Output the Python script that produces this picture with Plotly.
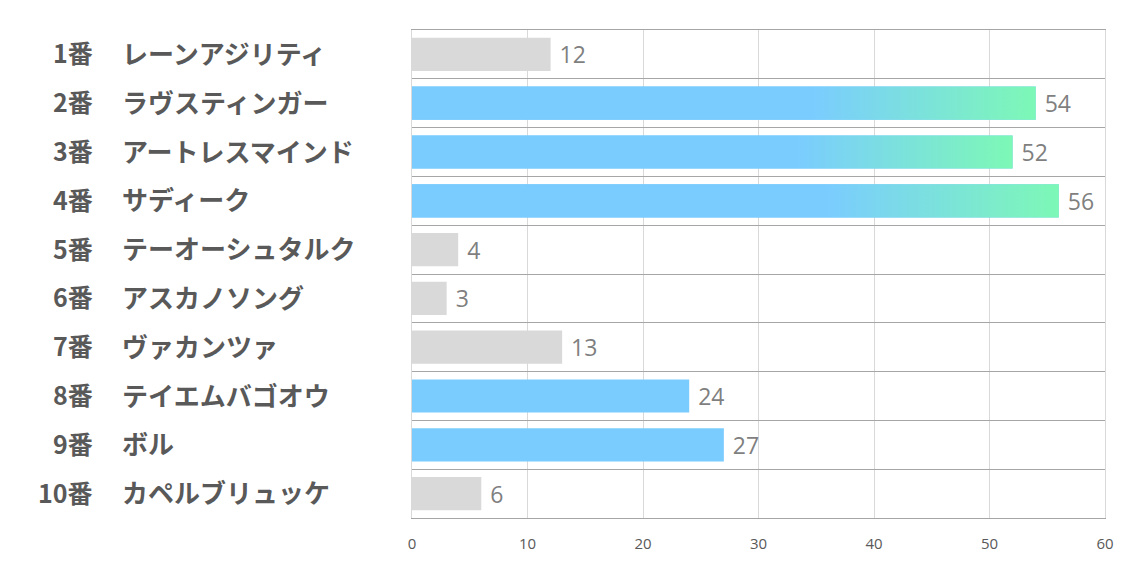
import plotly.graph_objects as go

numbers = ["1番", "2番", "3番", "4番", "5番", "6番", "7番", "8番", "9番", "10番"]
names = ["レーンアジリティ", "ラヴスティンガー", "アートレスマインド", "サディーク",
         "テーオーシュタルク", "アスカノソング", "ヴァカンツァ", "テイエムバゴオウ",
         "ボル", "カペルブリュッケ"]
values = [12, 54, 52, 56, 4, 3, 13, 24, 27, 6]
kinds = ["gray", "grad", "grad", "grad", "gray", "gray", "gray", "blue", "blue", "gray"]
x_ticks = [0, 10, 20, 30, 40, 50, 60]

GRAY = "#D9D9D9"
BLUE = "#7ACCFF"
GREEN = "#7DF8B6"
BAR_W = 0.68

pos = list(range(len(values)))
colors = [GRAY if k == "gray" else BLUE for k in kinds]

fig = go.Figure()
fig.add_trace(go.Bar(
    x=values, y=pos, orientation="h", width=BAR_W,
    marker=dict(color=colors, line=dict(width=0)),
    text=[" " + str(v) for v in values], textposition="outside",
    textfont=dict(size=23, color="#7F7F7F", family="Open Sans"),
    cliponaxis=False, hoverinfo="skip",
))

for i, (v, k) in enumerate(zip(values, kinds)):
    if k != "grad":
        continue
    h = BAR_W / 2
    fig.add_trace(go.Scatter(
        x=[0, v, v, 0, 0], y=[i - h, i - h, i + h, i + h, i - h],
        mode="lines", fill="toself", line=dict(width=0),
        fillgradient=dict(type="horizontal",
                          colorscale=[[0, BLUE], [0.64, BLUE], [1, GREEN]]),
        hoverinfo="skip", showlegend=False,
    ))

num_font = dict(size=25, color="#595959", family="Noto Sans CJK JP", weight="bold")
name_font = dict(size=26, color="#595959", family="Noto Sans CJK JP", weight="bold")
annotations = []
for i, (n, nm) in enumerate(zip(numbers, names)):
    annotations.append(dict(
        x=-0.458, xref="paper", y=i, yref="y", text=n, showarrow=False,
        xanchor="right", yanchor="middle", yshift=2, font=num_font,
    ))
    annotations.append(dict(
        x=-0.421, xref="paper", y=i, yref="y", text=nm, showarrow=False,
        xanchor="left", yanchor="middle", yshift=2, font=name_font,
    ))

fig.update_layout(
    width=1134, height=567,
    margin=dict(l=412, r=29, t=30, b=49),
    paper_bgcolor="white", plot_bgcolor="white",
    showlegend=False, barmode="overlay",
    annotations=annotations,
    xaxis=dict(
        range=[0, 60], tickvals=x_ticks, showgrid=True, gridcolor="#D9D9D9",
        gridwidth=1, zeroline=False, showline=True, mirror=True,
        linecolor="#A6A6A6", linewidth=1, ticks="",
        tickfont=dict(size=15, color="#595959", family="Open Sans"),
        ticklabelstandoff=12, fixedrange=True,
    ),
    yaxis=dict(
        range=[9.5, -0.5], tickvals=[p - 0.5 for p in pos] + [len(pos) - 0.5],
        showticklabels=False, showgrid=True, gridcolor="#A6A6A6", gridwidth=1,
        zeroline=False, showline=True, mirror=True, linecolor="#D9D9D9",
        linewidth=1, ticks="", fixedrange=True,
    ),
)

fig.write_html("out.html")
